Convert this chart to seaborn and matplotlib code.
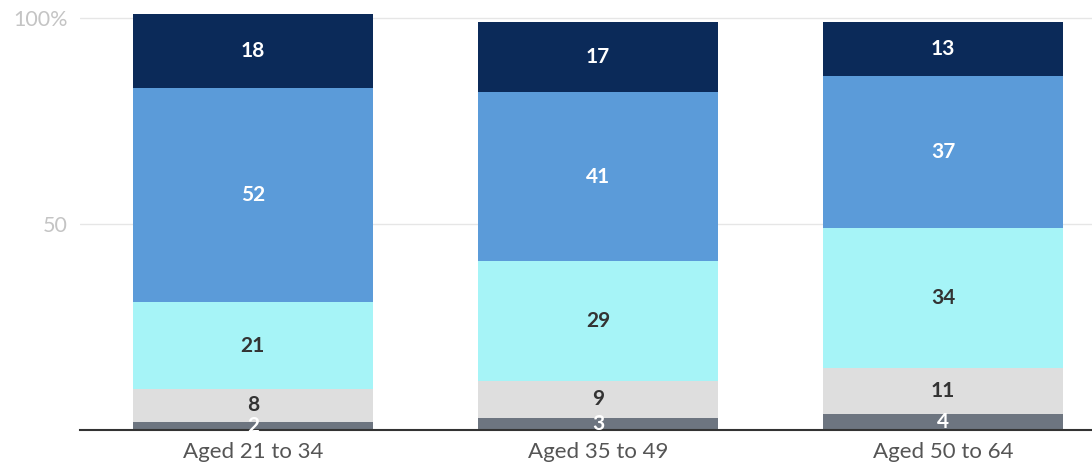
import matplotlib
matplotlib.use("Agg")
import matplotlib.pyplot as plt
import numpy as np
import pandas as pd
import seaborn as sns

groups = ["Aged 21 to 34", "Aged 35 to 49", "Aged 50 to 64"]
layers = ["a", "b", "c", "d", "e"]  # bottom to top
values = {
    "a": [2, 3, 4],
    "b": [8, 9, 11],
    "c": [21, 29, 34],
    "d": [52, 41, 37],
    "e": [18, 17, 13],
}
colors = {"a": "#6d7580", "b": "#dedede", "c": "#a6f4f7", "d": "#5b9bd9", "e": "#0b2a59"}
text_colors = {"a": "white", "b": "#333333", "c": "#333333", "d": "white", "e": "white"}

sns.set_style("white")
plt.rcParams["font.family"] = ["Lato", "DejaVu Sans"]

fig = plt.figure(figsize=(10.92, 4.68), dpi=100)
ax = fig.add_axes([80 / 1092, 38 / 468, 1012 / 1092, 430 / 468])

df = pd.DataFrame(values, index=groups)
cum = df.cumsum(axis=1)

# draw cumulative heights top layer first so lower layers sit on top
for layer in reversed(layers):
    sns.barplot(x=groups, y=cum[layer].values, color=colors[layer], width=0.696,
                saturation=1, linewidth=0, ax=ax, zorder=2)

for layer in layers:
    mids = cum[layer] - df[layer] / 2
    for i, g in enumerate(groups):
        ax.text(i, mids[g], str(df.loc[g, layer]), ha="center", va="center",
                fontsize=15, fontweight="bold", color=text_colors[layer], zorder=8)

ax.set_xlim(-0.501, 2.432)
ax.set_ylim(0, 104.4)
ax.set_yticks([50, 100])
ax.set_yticklabels(["50", "100%"], color="#c4c4c4", fontsize=15.5)
ax.tick_params(axis="y", length=0, pad=9)
ax.tick_params(axis="x", length=0, pad=9, labelsize=16, labelcolor="#555555")
ax.yaxis.grid(True, color="#e6e6e6", linewidth=1, zorder=0)
for s in ["top", "right", "left"]:
    ax.spines[s].set_visible(False)
ax.spines["bottom"].set_color("#333333")
ax.spines["bottom"].set_linewidth(1.5)
ax.spines["bottom"].set_zorder(6)
ax.set_xlabel("")
ax.set_ylabel("")

fig.savefig("out.png", dpi=100)
